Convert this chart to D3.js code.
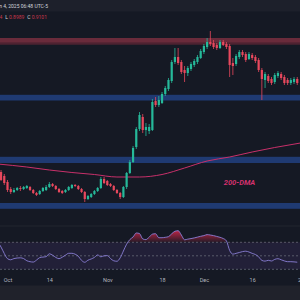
<!DOCTYPE html>
<html>
<head>
<meta charset="utf-8">
<script src="https://cdn.jsdelivr.net/npm/d3@7"></script>
<style>
  html, body { margin: 0; padding: 0; background: #151924; }
  svg { display: block; }
</style>
</head>
<body>
<div id="chart"></div>
<script>
// daily candles, the first one is 2024-09-28
const firstDay = "2024-09-28";

const open = [
  0.510, 0.490, 0.470, 0.440, 0.405, 0.390, 0.400, 0.410, 0.405, 0.410,
  0.415, 0.400, 0.385, 0.380, 0.395, 0.400, 0.415, 0.430, 0.420, 0.405,
  0.395, 0.390, 0.400, 0.410, 0.425, 0.420, 0.405, 0.390, 0.355, 0.365,
  0.380, 0.395, 0.410, 0.455, 0.445, 0.430, 0.420, 0.400, 0.385, 0.365,
  0.415, 0.485, 0.540, 0.615, 0.705, 0.765, 0.700, 0.695, 0.700, 0.845,
  0.825, 0.835, 0.880, 0.905, 0.945, 1.040, 1.065, 1.040, 1.000, 0.985,
  1.005, 1.025, 1.040, 1.060, 1.090, 1.115, 1.140, 1.135, 1.125, 1.110,
  1.140, 1.130, 1.120, 1.035, 1.030, 1.065, 1.090, 1.080, 1.055, 1.075,
  1.065, 1.050, 1.000, 0.950, 0.970, 0.955, 0.940, 0.970, 0.980, 0.965,
  0.950, 0.935, 0.940, 0.955
];
const high = [
  0.520, 0.500, 0.480, 0.450, 0.415, 0.410, 0.415, 0.420, 0.420, 0.425,
  0.420, 0.405, 0.390, 0.400, 0.415, 0.425, 0.440, 0.435, 0.425, 0.410,
  0.400, 0.405, 0.420, 0.430, 0.430, 0.425, 0.410, 0.395, 0.375, 0.385,
  0.400, 0.415, 0.465, 0.465, 0.450, 0.435, 0.425, 0.405, 0.390, 0.420,
  0.490, 0.550, 0.620, 0.715, 0.790, 0.780, 0.735, 0.730, 0.855, 0.865,
  0.870, 0.890, 0.920, 0.960, 1.050, 1.110, 1.110, 1.050, 1.020, 1.020,
  1.040, 1.055, 1.075, 1.105, 1.130, 1.160, 1.195, 1.150, 1.135, 1.150,
  1.150, 1.140, 1.130, 1.060, 1.080, 1.100, 1.100, 1.090, 1.090, 1.085,
  1.075, 1.060, 1.010, 0.990, 0.980, 0.965, 0.985, 0.995, 0.990, 0.975,
  0.960, 0.960, 0.965, 0.965
];
const low = [
  0.485, 0.445, 0.425, 0.390, 0.380, 0.385, 0.395, 0.395, 0.400, 0.405,
  0.395, 0.380, 0.370, 0.375, 0.390, 0.395, 0.410, 0.415, 0.400, 0.385,
  0.380, 0.385, 0.395, 0.405, 0.415, 0.400, 0.385, 0.340, 0.350, 0.360,
  0.375, 0.390, 0.405, 0.430, 0.420, 0.415, 0.395, 0.380, 0.355, 0.360,
  0.405, 0.480, 0.535, 0.605, 0.695, 0.685, 0.670, 0.680, 0.695, 0.815,
  0.815, 0.830, 0.870, 0.895, 0.935, 1.030, 1.025, 0.980, 0.940, 0.970,
  0.995, 1.015, 1.030, 1.055, 1.080, 1.105, 1.120, 1.105, 1.100, 1.105,
  1.120, 1.105, 0.965, 0.975, 1.020, 1.055, 1.065, 1.040, 1.050, 1.050,
  1.035, 0.990, 0.850, 0.910, 0.935, 0.925, 0.930, 0.960, 0.950, 0.925,
  0.925, 0.925, 0.930, 0.925
];
const close = [
  0.490, 0.450, 0.435, 0.400, 0.390, 0.400, 0.410, 0.405, 0.415, 0.420,
  0.400, 0.385, 0.375, 0.395, 0.410, 0.415, 0.430, 0.420, 0.405, 0.390,
  0.385, 0.400, 0.415, 0.425, 0.420, 0.405, 0.390, 0.355, 0.370, 0.380,
  0.395, 0.410, 0.455, 0.435, 0.425, 0.420, 0.400, 0.385, 0.365, 0.415,
  0.485, 0.540, 0.610, 0.705, 0.775, 0.700, 0.715, 0.715, 0.840, 0.825,
  0.850, 0.880, 0.910, 0.950, 1.040, 1.065, 1.035, 0.990, 0.985, 1.010,
  1.030, 1.045, 1.065, 1.095, 1.120, 1.140, 1.130, 1.115, 1.110, 1.140,
  1.125, 1.115, 1.025, 1.020, 1.070, 1.090, 1.075, 1.050, 1.080, 1.060,
  1.045, 1.000, 0.955, 0.980, 0.945, 0.935, 0.975, 0.985, 0.960, 0.935,
  0.935, 0.950, 0.955, 0.935
];
const rsi = [
  70.4, 62.9, 53.4, 45.7, 44.1, 45.9, 46.7, 47.0, 45.9, 42.7,
  41.3, 40.7, 43.6, 47.3, 48.1, 48.7, 53.0, 50.9, 47.6, 45.7,
  47.9, 50.9, 53.7, 53.7, 52.4, 49.3, 43.2, 40.4, 43.5, 45.3,
  47.6, 51.3, 48.5, 50.0, 50.3, 45.9, 42.6, 41.9, 47.0, 57.1,
  67.2, 74.0, 77.9, 83.8, 83.0, 75.0, 74.0, 77.7, 82.1, 82.7,
  76.8, 76.8, 77.4, 78.4, 82.6, 86.3, 87.2, 80.8, 73.7, 74.7,
  75.5, 76.5, 77.7, 78.9, 79.9, 81.4, 80.8, 79.9, 78.7, 77.4,
  75.6, 72.1, 57.9, 52.5, 53.6, 54.9, 56.2, 56.8, 55.6, 53.6,
  51.9, 48.5, 43.2, 42.1, 43.3, 42.3, 44.7, 45.7, 44.1, 42.4,
  41.3, 41.3, 41.0, 40.5
];

// 200 day moving average, read weekly
const dmaDates = ["2024-09-28", "2024-10-07", "2024-10-14", "2024-10-21", "2024-10-28", "2024-11-04",
  "2024-11-11", "2024-11-18", "2024-11-25", "2024-12-02", "2024-12-09", "2024-12-16", "2024-12-23", "2024-12-31"];
const dmaValues = [0.530, 0.515, 0.500, 0.4875, 0.4775, 0.465,
  0.465, 0.4775, 0.510, 0.545, 0.565, 0.590, 0.6125, 0.635];

// horizontal zones, [bottom, top]
const resistanceZones = [[1.128, 1.160]];
const supportZones = [[0.8475, 0.876], [0.535, 0.566], [0.306, 0.335]];

const tickDates = ["2024-10-01", "2024-10-14", "2024-11-01", "2024-11-18", "2024-12-01", "2024-12-16", "2025-01-01"];
const tickLabels = ["Oct", "14", "Nov", "18", "Dec", "16", "2025"];

const width = 300, height = 300;
const parse = d3.utcParse("%Y-%m-%d");
const day0 = parse(firstDay);

const candles = open.map((o, i) => ({
  date: d3.utcDay.offset(day0, i),
  o: o, h: high[i], l: low[i], c: close[i], rsi: rsi[i]
}));

const svg = d3.select("#chart").append("svg")
  .attr("width", width)
  .attr("height", height)
  .style("font-family", "Roboto, 'Noto Sans', sans-serif");

// backgrounds
svg.append("rect").attr("width", width).attr("height", height).attr("fill", "#151924");
svg.append("rect").attr("width", width).attr("height", 11.5).attr("fill", "#1d202b");
svg.append("rect").attr("y", 285.5).attr("width", width).attr("height", 15).attr("fill", "#20222b");
svg.append("line").attr("x1", 0).attr("x2", width).attr("y1", 226).attr("y2", 226)
  .attr("stroke", "#23262f").attr("stroke-width", 1);

// scales
const x = d3.scaleUtc()
  .domain([parse("2024-10-01"), parse("2025-01-01")])
  .range([7.5, 303.7]);

const y = d3.scaleLinear()
  .domain([0.3, 1.2])
  .range([210, 30]);

const yRsi = d3.scaleLinear()
  .domain([30, 70])
  .range([269.3, 242.3]);

// price pane
const price = svg.append("g");

price.selectAll(".res").data(resistanceZones).join("rect")
  .attr("class", "res")
  .attr("x", 0).attr("width", width)
  .attr("y", d => y(d[1]))
  .attr("height", d => y(d[0]) - y(d[1]))
  .attr("fill", "#6a2b3b");
price.selectAll(".res-edge").data(resistanceZones).join("rect")
  .attr("class", "res-edge")
  .attr("x", 0).attr("width", width)
  .attr("y", d => y(d[0]) - 2)
  .attr("height", 2)
  .attr("fill", "#4d2231");

price.selectAll(".sup").data(supportZones).join("rect")
  .attr("class", "sup")
  .attr("x", 0).attr("width", width)
  .attr("y", d => y(d[1]))
  .attr("height", d => y(d[0]) - y(d[1]))
  .attr("fill", "#1f3a72");

// 200-DMA
const dmaLine = d3.line()
  .x((d, i) => x(parse(dmaDates[i])))
  .y(d => y(d))
  .curve(d3.curveMonotoneX);
price.append("path")
  .datum(dmaValues)
  .attr("d", dmaLine)
  .attr("fill", "none")
  .attr("stroke", "#c8306a")
  .attr("stroke-width", 1);

price.append("text")
  .attr("x", 239.5)
  .attr("y", 184.5)
  .attr("text-anchor", "middle")
  .attr("fill", "#d2316d")
  .style("font-size", "7.5px")
  .style("font-weight", "bold")
  .style("font-style", "italic")
  .text("200-DMA");

// candles
const up = "#26b99a", down = "#e8485d";
const bar = price.selectAll(".candle").data(candles).join("g")
  .attr("class", "candle")
  .attr("fill", d => d.c >= d.o ? up : down)
  .attr("stroke", d => d.c >= d.o ? up : down);

bar.append("line")
  .attr("x1", d => x(d.date)).attr("x2", d => x(d.date))
  .attr("y1", d => y(d.h)).attr("y2", d => y(d.l))
  .attr("stroke-width", 0.8);

bar.append("rect")
  .attr("x", d => x(d.date) - 1.1)
  .attr("width", 2.2)
  .attr("y", d => y(Math.max(d.o, d.c)))
  .attr("height", d => Math.max(0.8, Math.abs(y(d.o) - y(d.c))))
  .attr("stroke", "none");

// RSI pane
const rsiPane = svg.append("g");

rsiPane.append("rect")
  .attr("x", 0).attr("width", width)
  .attr("y", yRsi(70))
  .attr("height", yRsi(30) - yRsi(70))
  .attr("fill", "rgba(126,87,194,0.13)");

rsiPane.selectAll(".lvl").data([70, 50, 30]).join("line")
  .attr("class", "lvl")
  .attr("x1", 0).attr("x2", width)
  .attr("y1", d => yRsi(d)).attr("y2", d => yRsi(d))
  .attr("stroke", "#6f7280")
  .attr("stroke-width", 0.7)
  .attr("stroke-dasharray", "2,2");

const defs = svg.append("defs");
const grad = defs.append("linearGradient")
  .attr("id", "ob")
  .attr("gradientUnits", "userSpaceOnUse")
  .attr("x1", 0).attr("x2", 0)
  .attr("y1", yRsi(88)).attr("y2", yRsi(70));
grad.append("stop").attr("offset", "0%").attr("stop-color", "#e0284c").attr("stop-opacity", 0.85);
grad.append("stop").attr("offset", "100%").attr("stop-color", "#e0284c").attr("stop-opacity", 0.08);

defs.append("clipPath").attr("id", "above70")
  .append("rect")
  .attr("x", 0).attr("width", width)
  .attr("y", 0).attr("height", yRsi(70));

const obArea = d3.area()
  .x(d => x(d.date))
  .y0(yRsi(70))
  .y1(d => yRsi(d.rsi))
  .curve(d3.curveMonotoneX);

rsiPane.append("path")
  .datum(candles)
  .attr("d", obArea)
  .attr("clip-path", "url(#above70)")
  .attr("fill", "url(#ob)");

const rsiLine = d3.line()
  .x(d => x(d.date))
  .y(d => yRsi(d.rsi))
  .curve(d3.curveMonotoneX);

rsiPane.append("path")
  .datum(candles)
  .attr("d", rsiLine)
  .attr("fill", "none")
  .attr("stroke", "#8a7fd6")
  .attr("stroke-width", 0.9);

// time axis
const xAxis = d3.axisBottom(x)
  .tickValues(tickDates.map(parse))
  .tickFormat((d, i) => tickLabels[i])
  .tickSize(0)
  .tickPadding(0);

const axisG = svg.append("g")
  .attr("transform", "translate(0,278)")
  .call(xAxis);
axisG.select(".domain").remove();
axisG.selectAll("text")
  .attr("fill", "#b2b5be")
  .style("font-size", "5.5px")
  .style("font-family", "Roboto, 'Noto Sans', sans-serif");

// header texts
svg.append("text")
  .attr("x", 48).attr("y", 8)
  .attr("text-anchor", "end")
  .attr("fill", "#d1d4dc")
  .style("font-size", "5px")
  .text("Jan 4, 2025 06:48 UTC-5");

const ohlc = svg.append("text")
  .attr("x", 47).attr("y", 19)
  .attr("text-anchor", "end")
  .style("font-size", "5px");
ohlc.append("tspan").attr("fill", "#d1d4dc").text("H");
ohlc.append("tspan").attr("fill", "#c8364a").text("0.9344");
ohlc.append("tspan").attr("fill", "#d1d4dc").attr("dx", 3).text("L");
ohlc.append("tspan").attr("fill", "#c8364a").attr("dx", 1).text("0.8989");
ohlc.append("tspan").attr("fill", "#d1d4dc").attr("dx", 3).text("C");
ohlc.append("tspan").attr("fill", "#c8364a").attr("dx", 1).text("0.9101");
</script>
</body>
</html>
